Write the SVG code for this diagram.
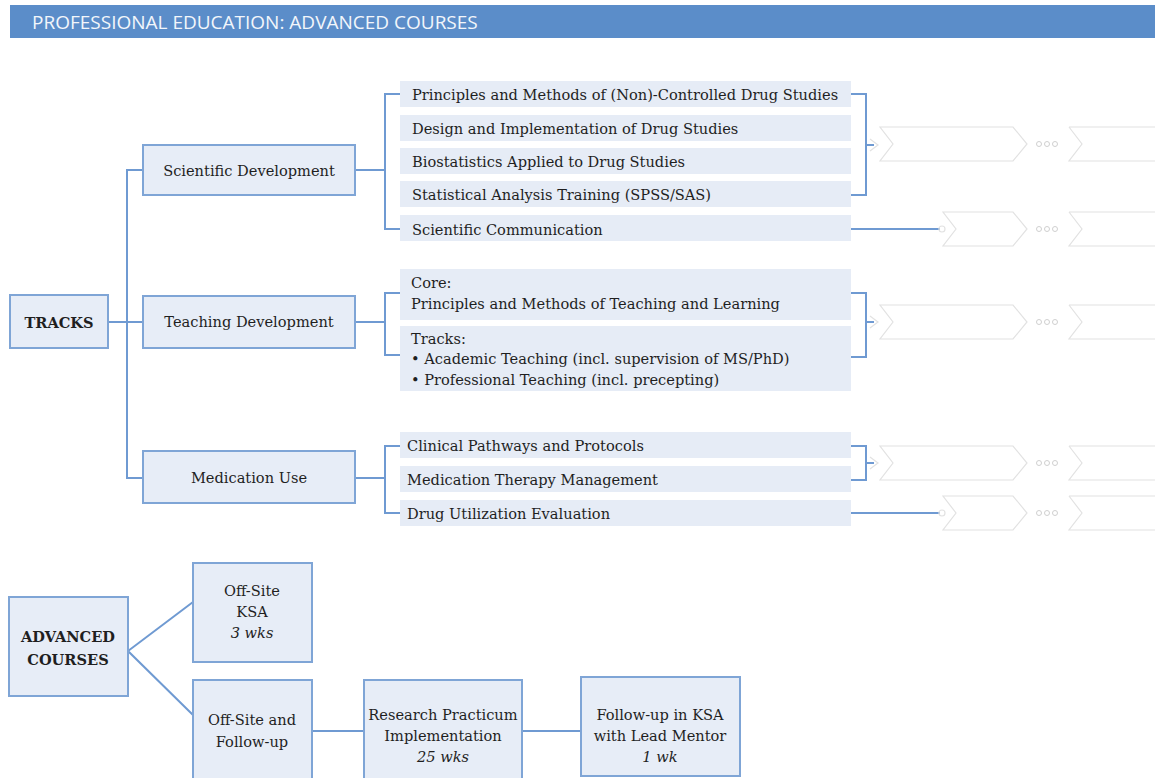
<svg xmlns="http://www.w3.org/2000/svg" width="1155" height="778" viewBox="0 0 1155 778">
  <defs>
    <style>
      .box { fill: #e7edf7; stroke: #7fa5d6; stroke-width: 2; }
      .row { fill: #e6ecf6; }
      .lbl { font-family: "DejaVu Serif", "Liberation Serif", serif; font-size: 14.6px; fill: #1f1f1f; }
      .mid { text-anchor: middle; }
      .b { font-weight: bold; }
      .i { font-style: italic; }
      .ln { fill: none; stroke: #6f9ad2; stroke-width: 2; }
      .chev { fill: none; stroke: #e2e2e2; stroke-width: 1.2; }
      .dot { fill: none; stroke: #d0d0d0; stroke-width: 1; }
    </style>
    <!-- chevron step shapes, origin at top-left -->
    <path id="chevA" d="M0,0 H133 L147,17 L133,34 H0 L13,17 Z"/>
    <path id="chevC" d="M0,0 H70 L84,17 L70,34 H0 L13,17 Z"/>
    <path id="chevB" d="M0,0 H120 M120,34 H0 L13,17 L0,0"/>
    <g id="dots"><circle cx="0" cy="0" r="2.5"/><circle cx="8" cy="0" r="2.5"/><circle cx="16" cy="0" r="2.5"/></g>
  </defs>

  <rect width="1155" height="778" fill="#ffffff"/>

  <!-- header bar -->
  <g id="header">
    <rect x="10" y="5" width="1145" height="33" fill="#5b8dc9"/>
    <text x="32" y="29" font-family="Open Sans, Liberation Sans, sans-serif" font-size="19" fill="#f2f6fb">PROFESSIONAL EDUCATION: ADVANCED COURSES</text>
  </g>

  <!-- connectors -->
  <g id="connectors">
    <!-- tracks trunk -->
    <path class="ln" d="M108,322 H143"/>
    <path class="ln" d="M143,170 H127 V478 H143"/>
    <!-- scientific development -->
    <path class="ln" d="M355,170 H385"/>
    <path class="ln" d="M400,94 H385 V229 H400"/>
    <path class="ln" d="M851,94 H866 V195 H851"/>
    <path class="ln" d="M866,145 H874"/>
    <path class="ln" d="M851,229 H940"/>
    <!-- teaching development -->
    <path class="ln" d="M355,322 H385"/>
    <path class="ln" d="M400,293 H385 V355 H400"/>
    <path class="ln" d="M851,293 H866 V357 H851"/>
    <path class="ln" d="M866,322 H874"/>
    <!-- medication use -->
    <path class="ln" d="M355,478 H385"/>
    <path class="ln" d="M400,446 H385 V513 H400"/>
    <path class="ln" d="M851,446 H866 V480 H851"/>
    <path class="ln" d="M866,463 H874"/>
    <path class="ln" d="M851,513 H940"/>
    <!-- advanced courses -->
    <path class="ln" d="M193,602 L128,651 L193,715"/>
    <path class="ln" d="M312,731 H364"/>
    <path class="ln" d="M522,731 H581"/>
  </g>

  <!-- faint step outlines -->
  <g id="steps" class="chev">
    <path d="M870,139 L878,145 L870,151"/>
    <use href="#chevA" x="880" y="127"/>
    <use href="#chevB" x="1069" y="127"/>
    <use href="#chevC" x="943" y="212"/>
    <use href="#chevB" x="1069" y="212"/>
    <path d="M870,316 L878,322 L870,328"/>
    <use href="#chevA" x="880" y="305"/>
    <use href="#chevB" x="1069" y="305"/>
    <path d="M870,457 L878,463 L870,469"/>
    <use href="#chevA" x="880" y="446"/>
    <use href="#chevB" x="1069" y="446"/>
    <use href="#chevC" x="943" y="496"/>
    <use href="#chevB" x="1069" y="496"/>
    <circle cx="942" cy="229" r="3"/>
    <circle cx="942" cy="513" r="3"/>
  </g>
  <g id="step-dots" class="dot">
    <use href="#dots" x="1039" y="144"/>
    <use href="#dots" x="1039" y="229"/>
    <use href="#dots" x="1039" y="322"/>
    <use href="#dots" x="1039" y="463"/>
    <use href="#dots" x="1039" y="513"/>
  </g>

  <!-- TRACKS root -->
  <g id="tracks">
    <rect class="box" x="10" y="295" width="98" height="53"/>
    <text class="lbl mid b" x="59" y="328" font-size="16">TRACKS</text>
  </g>

  <g id="scientific-development">
    <rect class="box" x="143" y="145" width="212" height="50"/>
    <text class="lbl mid" x="249" y="176">Scientific Development</text>
  </g>
  <g id="teaching-development">
    <rect class="box" x="143" y="296" width="212" height="52"/>
    <text class="lbl mid" x="249" y="327">Teaching Development</text>
  </g>
  <g id="medication-use">
    <rect class="box" x="143" y="451" width="212" height="52"/>
    <text class="lbl mid" x="249" y="483">Medication Use</text>
  </g>

  <!-- scientific development courses -->
  <g id="sd-course-1"><rect class="row" x="400" y="81" width="451" height="26"/><text class="lbl" x="412" y="100">Principles and Methods of (Non)-Controlled Drug Studies</text></g>
  <g id="sd-course-2"><rect class="row" x="400" y="115" width="451" height="26"/><text class="lbl" x="412" y="134">Design and Implementation of Drug Studies</text></g>
  <g id="sd-course-3"><rect class="row" x="400" y="148" width="451" height="26"/><text class="lbl" x="412" y="167">Biostatistics Applied to Drug Studies</text></g>
  <g id="sd-course-4"><rect class="row" x="400" y="181" width="451" height="26"/><text class="lbl" x="412" y="200">Statistical Analysis Training (SPSS/SAS)</text></g>
  <g id="sd-course-5"><rect class="row" x="400" y="215" width="451" height="26"/><text class="lbl" x="412" y="235">Scientific Communication</text></g>

  <!-- teaching development courses -->
  <g id="td-core">
    <rect class="row" x="400" y="269" width="451" height="51"/>
    <text class="lbl" x="411" y="288">Core:</text>
    <text class="lbl" x="411" y="309">Principles and Methods of Teaching and Learning</text>
  </g>
  <g id="td-tracks">
    <rect class="row" x="400" y="326" width="451" height="65"/>
    <text class="lbl" x="411" y="344">Tracks:</text>
    <text class="lbl" x="411" y="364">•  Academic Teaching (incl. supervision of MS/PhD)</text>
    <text class="lbl" x="411" y="385">•  Professional Teaching (incl. precepting)</text>
  </g>

  <!-- medication use courses -->
  <g id="mu-course-1"><rect class="row" x="400" y="432" width="451" height="26"/><text class="lbl" x="407" y="451">Clinical Pathways and Protocols</text></g>
  <g id="mu-course-2"><rect class="row" x="400" y="466" width="451" height="26"/><text class="lbl" x="407" y="485">Medication Therapy Management</text></g>
  <g id="mu-course-3"><rect class="row" x="400" y="500" width="451" height="26"/><text class="lbl" x="407" y="519">Drug Utilization Evaluation</text></g>

  <!-- advanced courses -->
  <g id="advanced-courses">
    <rect class="box" x="9" y="597" width="119" height="99"/>
    <text class="lbl mid b" x="68" y="642" font-size="16">ADVANCED</text>
    <text class="lbl mid b" x="68" y="665" font-size="16">COURSES</text>
  </g>
  <g id="offsite-ksa">
    <rect class="box" x="193" y="563" width="119" height="99"/>
    <text class="lbl mid" x="252" y="596">Off-Site</text>
    <text class="lbl mid" x="252" y="617">KSA</text>
    <text class="lbl mid i" x="252" y="638">3 wks</text>
  </g>
  <g id="offsite-followup">
    <rect class="box" x="193" y="680" width="119" height="110"/>
    <text class="lbl mid" x="252" y="725">Off-Site and</text>
    <text class="lbl mid" x="252" y="747">Follow-up</text>
  </g>
  <g id="research-practicum">
    <rect class="box" x="364" y="680" width="158" height="110"/>
    <text class="lbl mid" x="443" y="720">Research Practicum</text>
    <text class="lbl mid" x="443" y="741">Implementation</text>
    <text class="lbl mid i" x="443" y="762">25 wks</text>
  </g>
  <g id="followup-ksa">
    <rect class="box" x="581" y="677" width="159" height="99"/>
    <text class="lbl mid" x="660" y="720">Follow-up in KSA</text>
    <text class="lbl mid" x="660" y="741">with Lead Mentor</text>
    <text class="lbl mid i" x="660" y="762">1 wk</text>
  </g>
</svg>
